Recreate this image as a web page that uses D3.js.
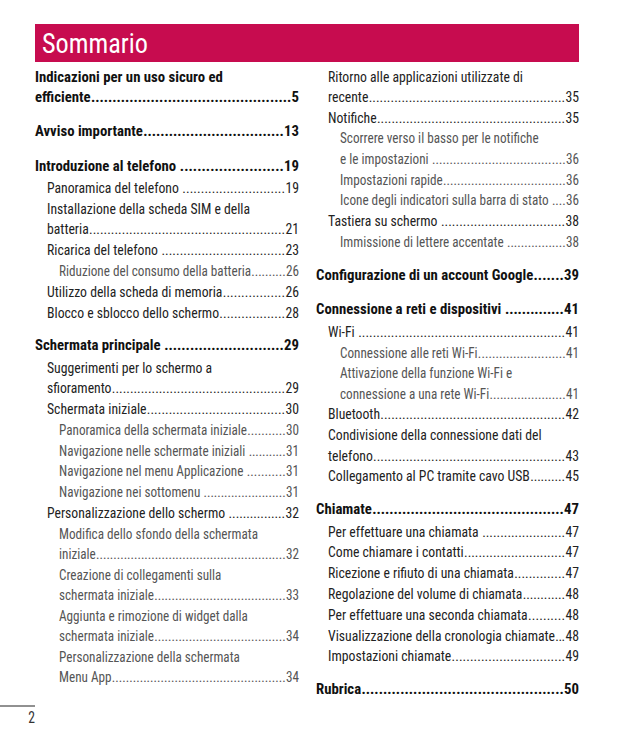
<!DOCTYPE html>
<html>
<head>
<meta charset="utf-8">
<script src="https://cdn.jsdelivr.net/npm/d3@7"></script>
<style>
  html, body { margin: 0; padding: 0; background: #fff; }
  svg { display: block; }
  text { white-space: pre; }
</style>
</head>
<body>
<div id="chart"></div>
<script>
// ---------------- DATA ----------------
const pageTitle = "Sommario";
const pageNumber = "2";

const tocTitles = [
  "Indicazioni per un uso sicuro ed\nefficiente",
  "Avviso importante",
  "Introduzione al telefono ",
  "Panoramica del telefono ",
  "Installazione della scheda SIM e della\nbatteria",
  "Ricarica del telefono ",
  "Riduzione del consumo della batteria",
  "Utilizzo della scheda di memoria",
  "Blocco e sblocco dello schermo",
  "Schermata principale ",
  "Suggerimenti per lo schermo a\nsfioramento",
  "Schermata iniziale",
  "Panoramica della schermata iniziale",
  "Navigazione nelle schermate iniziali ",
  "Navigazione nel menu Applicazione ",
  "Navigazione nei sottomenu ",
  "Personalizzazione dello schermo ",
  "Modifica dello sfondo della schermata\niniziale",
  "Creazione di collegamenti sulla\nschermata iniziale",
  "Aggiunta e rimozione di widget dalla\nschermata iniziale",
  "Personalizzazione della schermata\nMenu App",
  "Ritorno alle applicazioni utilizzate di\nrecente",
  "Notifiche",
  "Scorrere verso il basso per le notifiche\ne le impostazioni ",
  "Impostazioni rapide",
  "Icone degli indicatori sulla barra di stato ",
  "Tastiera su schermo ",
  "Immissione di lettere accentate ",
  "Configurazione di un account Google",
  "Connessione a reti e dispositivi ",
  "Wi-Fi ",
  "Connessione alle reti Wi-Fi",
  "Attivazione della funzione Wi-Fi e\nconnessione a una rete Wi-Fi",
  "Bluetooth",
  "Condivisione della connessione dati del\ntelefono",
  "Collegamento al PC tramite cavo USB",
  "Chiamate",
  "Per effettuare una chiamata ",
  "Come chiamare i contatti",
  "Ricezione e rifiuto di una chiamata",
  "Regolazione del volume di chiamata",
  "Per effettuare una seconda chiamata",
  "Visualizzazione della cronologia chiamate",
  "Impostazioni chiamate",
  "Rubrica"
];
const tocLevels = [
  0, 0, 0, 1, 1, 1, 2, 1, 1, 0, 1, 1, 2, 2, 2, 2, 1, 2, 2, 2, 2,
  1, 1, 2, 2, 2, 1, 2, 0, 0, 1, 2, 2, 1, 1, 1, 0, 1, 1, 1, 1, 1, 1, 1, 0
];
const tocPages = [
  5, 13, 19, 19, 21, 23, 26, 26, 28, 29, 29, 30, 30, 31, 31, 31, 32, 32, 33, 34, 34,
  35, 35, 36, 36, 36, 38, 38, 39, 41, 41, 41, 41, 42, 43, 45, 47, 47, 47, 47, 48, 48, 48, 49, 50
];
const tocColumns = [
  0, 0, 0, 0, 0, 0, 0, 0, 0, 0, 0, 0, 0, 0, 0, 0, 0, 0, 0, 0, 0,
  1, 1, 1, 1, 1, 1, 1, 1, 1, 1, 1, 1, 1, 1, 1, 1, 1, 1, 1, 1, 1, 1, 1, 1
];

// ---------------- LAYOUT ----------------
const W = 621, H = 745;
const FONT = "'Liberation Sans Narrow', 'Arial Narrow', 'Roboto Condensed', Roboto, 'Liberation Sans', sans-serif";
const colLeft = [35, 316];
const colRight = [299, 579];
const indent = 12;
// sample string + its width in the reference, used to condense the font
const levelStyle = [
  { size: 15,   weight: "bold",   fill: "#111", sample: "Avviso importante", target: 108 },
  { size: 15,   weight: "normal", fill: "#222", sample: "Panoramica del telefono", target: 132 },
  { size: 14.3, weight: "normal", fill: "#555", sample: "Riduzione del consumo della batteria", target: 192 }
];

const svg = d3.select("#chart").append("svg")
  .attr("width", W).attr("height", H)
  .attr("viewBox", `0 0 ${W} ${H}`);

svg.append("rect").attr("width", W).attr("height", H).attr("fill", "#fff");

// header band (drawn before the text layer)
svg.append("rect")
  .attr("x", 35).attr("y", 24).attr("width", 544).attr("height", 38)
  .attr("fill", "#C70C4F");

const g = svg.append("g").attr("font-family", FONT);

function measure(txt, size, weight) {
  const t = g.append("text").attr("font-size", size).attr("font-weight", weight).text(txt);
  const w = t.node().getComputedTextLength();
  t.remove();
  return w;
}
levelStyle.forEach(st => {
  st.factor = Math.min(1.1, st.target / measure(st.sample, st.size, st.weight));
  st.dot = measure("..........", st.size, st.weight) / 10;
});

// place a horizontally condensed text at (x, y)
function putText(parent, txt, x, yy, st, anchor) {
  const t = parent.append("text")
    .attr("transform", `translate(${x},${yy}) scale(${st.factor},1)`)
    .attr("font-size", st.size).attr("font-weight", st.weight)
    .attr("fill", st.fill)
    .attr("text-anchor", anchor || "start")
    .text(txt);
  return { sel: t, w: t.node().getComputedTextLength() * st.factor };
}

// title
const titleNat = measure(pageTitle, 28, "normal");
putText(g, pageTitle, 42, 52.5, { size: 28, weight: "normal", fill: "#fff", factor: 106 / titleNat });

// footer
svg.append("line")
  .attr("x1", 0).attr("x2", 35).attr("y1", 706).attr("y2", 706)
  .attr("stroke", "#222").attr("stroke-width", 1);
putText(g, pageNumber, 35, 723, { size: 16, weight: "normal", fill: "#333", factor: 0.85 }, "end");

// build entries and row units
const entries = tocTitles.map((t, i) => ({
  title: t, level: tocLevels[i], page: tocPages[i], col: tocColumns[i]
}));

const rows = [];
[0, 1].forEach(col => {
  let u = 0, first = true, prev = null;
  entries.filter(e => e.col === col).forEach(e => {
    if (!first) {
      let step = e.level === 0 ? 1.58 : 1;
      if (prev === 0) step += 0.08;
      u += step;
    }
    const lines = e.title.split("\n");
    lines.forEach((ln, k) => {
      if (k > 0) u += 0.976;
      rows.push({ col, level: e.level, text: ln, unit: u,
                  last: k === lines.length - 1, page: e.page });
    });
    first = false; prev = e.level;
  });
});

const y = d3.scaleLinear().domain([0, 1]).range([76, 96.8]);
const baselineShift = 5.5;

rows.forEach(r => {
  const st = levelStyle[r.level];
  const x0 = colLeft[r.col] + indent * r.level;
  const xR = colRight[r.col];
  const yy = y(r.unit) + baselineShift;

  const label = putText(g, r.text, x0, yy, st, "start");
  if (!r.last) return;

  const pg = putText(g, String(r.page), xR, yy, st, "end");

  // dot leader stretched across the gap between label and page number
  const dotW = st.dot * st.factor;
  const dotEnd = xR - pg.w - 0.3;
  const gap = dotEnd - (x0 + label.w) - 0.3;
  const n = gap > dotW * 0.6 ? Math.max(1, Math.round(gap / dotW)) : 0;
  if (n > 0) {
    const d = putText(g, ".".repeat(n), dotEnd, yy, st, "end");
    d.sel.attr("textLength", gap / st.factor).attr("lengthAdjust", "spacing");
  }
});
</script>
</body>
</html>
